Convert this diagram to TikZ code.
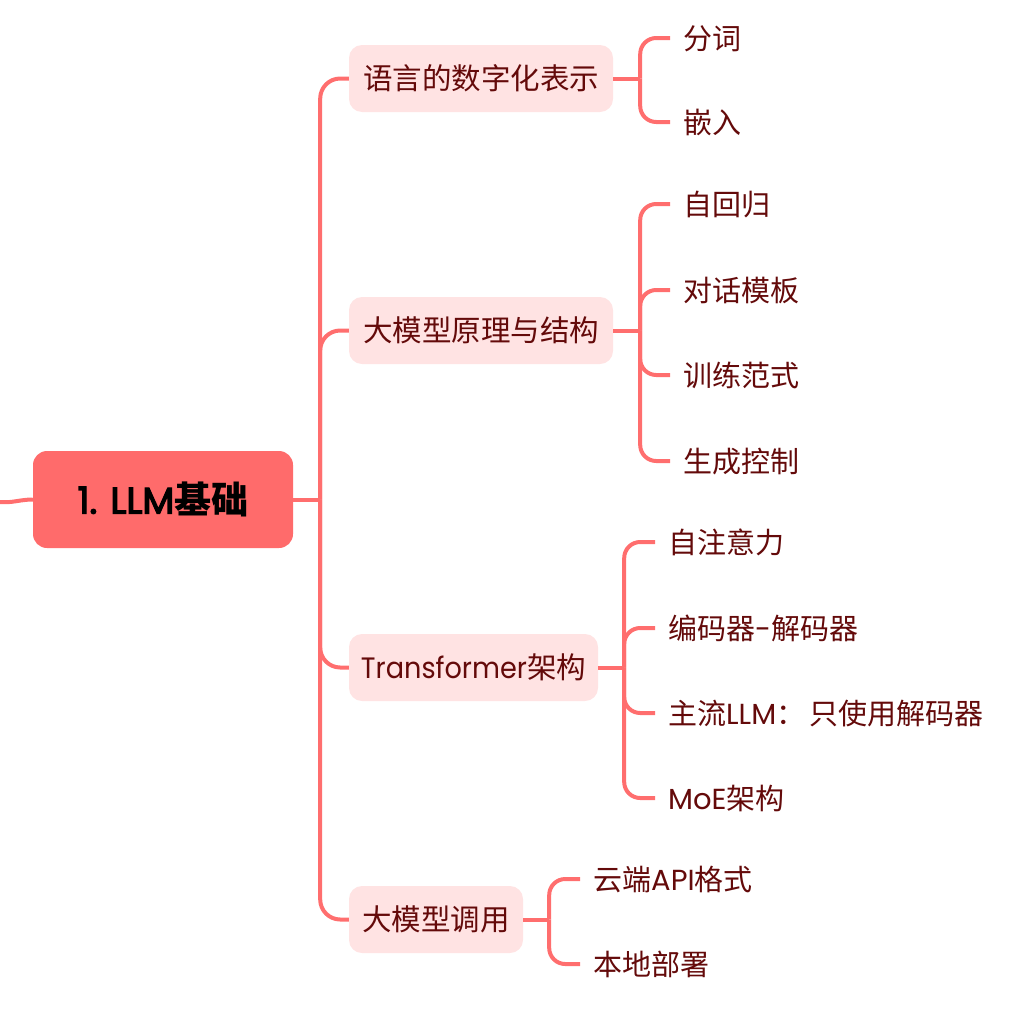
\documentclass[tikz,border=0pt]{standalone}
\usepackage{fontspec}
\setmainfont{Noto Sans CJK SC}
\newfontfamily\lat{Poppins}
\newfontfamily\latb[FakeBold=3.5]{Poppins}
\definecolor{linec}{HTML}{FF6E6E}
\definecolor{rootfill}{HTML}{FF6B6B}
\definecolor{lonefill}{HTML}{FFE3E3}
\definecolor{textc}{HTML}{640A0A}
\begin{document}
\begin{tikzpicture}[x=1pt,y=-1pt,
  conn/.style={draw=linec, line width=4pt, rounded corners=16pt},
  rootbox/.style={fill=rootfill, rounded corners=14pt, minimum width=260pt, minimum height=97pt, inner sep=0pt, text=black, font=\fontsize{37}{40}\selectfont},
  lone/.style={fill=lonefill, rounded corners=13pt, minimum height=67pt, inner sep=0pt, text=textc, font=\fontsize{29.5}{34}\selectfont},
  leaf/.style={anchor=west, inner sep=0pt, text=textc, font=\fontsize{29}{34}\selectfont, text height=25.5pt, text depth=3.5pt}]
\useasboundingbox (0,0) rectangle (1027,1020);

\node[rootbox] (root) at (163,499.5) {{\latb 1. LLM}{\bfseries 基础}};
\node[lone, minimum width=264pt] (b1) at (481,78.5) {语言的数字化表示};
\node[lone, minimum width=264pt] (b2) at (481,330.5) {大模型原理与结构};
\node[lone, minimum width=249pt] (b3) at (473.5,667.5) {\scalebox{0.92}[1]{\lat Transformer}架构};
\node[lone, minimum width=174pt] (b4) at (436,919.5) {大模型调用};

\node[leaf] (c11) at (683,38) {分词};
\node[leaf] (c12) at (683,122) {嵌入};
\node[leaf] (c21) at (683,204) {自回归};
\node[leaf] (c22) at (683,290) {对话模板};
\node[leaf] (c23) at (683,375) {训练范式};
\node[leaf] (c24) at (683,461) {生成控制};
\node[leaf] (c31) at (668,542) {自注意力};
\node[leaf] (c32) at (668,628) {编码器{\lat -}解码器};
\node[leaf] (c33) at (668,713) {主流{\lat LLM}：\hspace{4pt}只使用解码器};
\node[leaf] (c34) at (668,798) {{\lat MoE}架构};
\node[leaf] (c41) at (593,879) {云端{\lat API}格式};
\node[leaf] (c42) at (593,964) {本地部署};

\coordinate (lft) at (0,502);
\draw[conn, rounded corners=0pt] (lft) to[out=-5,in=180] (root.west);

\coordinate (j0) at ([xshift=27]root.east);
\draw[conn] (root.east) -- (j0);
\foreach \b in {b1,b2,b3,b4} \draw[conn, rounded corners=20pt] (j0) |- (\b.west);

\coordinate (j1) at ([xshift=27]b1.east);
\draw[conn] (b1.east) -- (j1);
\foreach \c in {c11,c12} \draw[conn] (j1) |- ([xshift=-13]\c.west);

\coordinate (j2) at ([xshift=27]b2.east);
\draw[conn] (b2.east) -- (j2);
\foreach \c in {c21,c22,c23,c24} \draw[conn] (j2) |- ([xshift=-13]\c.west);

\coordinate (j3) at ([xshift=26]b3.east);
\draw[conn] (b3.east) -- (j3);
\foreach \c in {c31,c32,c33,c34} \draw[conn] (j3) |- ([xshift=-13]\c.west);

\coordinate (j4) at ([xshift=26]b4.east);
\draw[conn] (b4.east) -- (j4);
\foreach \c in {c41,c42} \draw[conn] (j4) |- ([xshift=-13]\c.west);
\end{tikzpicture}
\end{document}
